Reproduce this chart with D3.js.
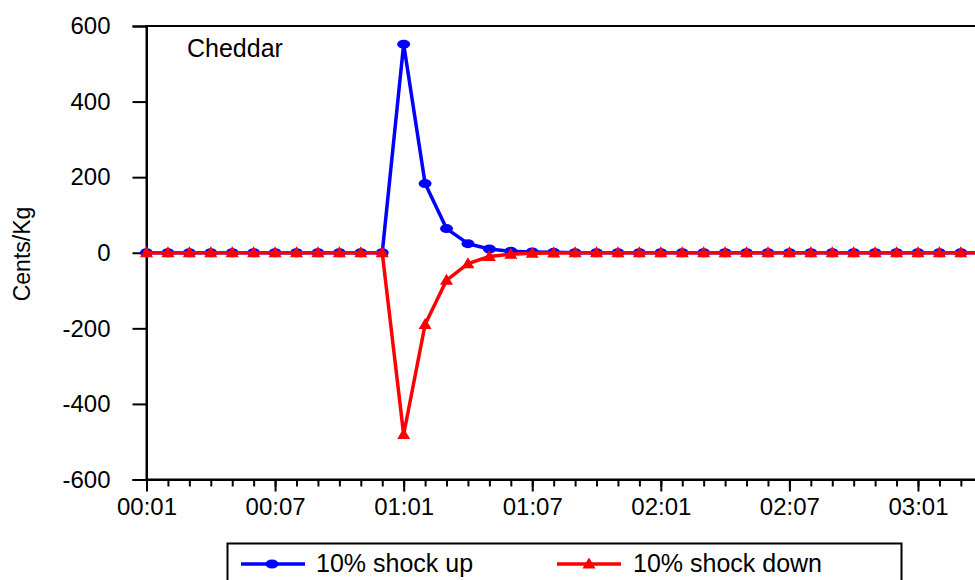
<!DOCTYPE html>
<html>
<head>
<meta charset="utf-8">
<script src="https://cdn.jsdelivr.net/npm/d3@7"></script>
<style>
  html, body { margin: 0; padding: 0; background: #fff; overflow: hidden; }
  svg { display: block; font-family: "Liberation Sans", Arial, sans-serif; }
</style>
</head>
<body>
<svg id="chart" width="975" height="580"></svg>
<script>
// Monthly periods (yy:mm), 2000:01 onwards
const periods = [
  "00:01","00:02","00:03","00:04","00:05","00:06","00:07","00:08","00:09","00:10","00:11","00:12",
  "01:01","01:02","01:03","01:04","01:05","01:06","01:07","01:08","01:09","01:10","01:11","01:12",
  "02:01","02:02","02:03","02:04","02:05","02:06","02:07","02:08","02:09","02:10","02:11","02:12",
  "03:01","03:02","03:03","03:04","03:05"
];

// Response of cheddar price (cents/kg)
const shockUp = [
  0,0,0,0,0,0,0,0,0,0,0,0,
  552,183,64,24,10,4,2,1,0,0,0,0,
  0,0,0,0,0,0,0,0,0,0,0,0,
  0,0,0,0,0
];
const shockDown = [
  0,0,0,0,0,0,0,0,0,0,0,0,
  -481,-190,-73,-29,-10,-4,-1.5,-0.5,0,0,0,0,
  0,0,0,0,0,0,0,0,0,0,0,0,
  0,0,0,0,0
];

const yTicks = [-600, -400, -200, 0, 200, 400, 600];
const majorTickLabels = ["00:01","00:07","01:01","01:07","02:01","02:07","03:01"];
const seriesNames = ["10% shock up", "10% shock down"];
const seriesColors = ["#0000ff", "#ff0000"];

const svg = d3.select("#chart");
const plotLeft = 146.5, plotTop = 26, plotBottom = 479.5, step = 21.43;
const FONT = "'Liberation Sans', Arial, sans-serif";

const x = d3.scaleLinear()
  .domain([0, periods.length - 1])
  .range([plotLeft, plotLeft + (periods.length - 1) * step]);
const y = d3.scaleLinear().domain([-600, 600]).range([plotBottom, plotTop]);

// frame
svg.append("rect")
  .attr("x", plotLeft).attr("y", plotTop)
  .attr("width", x.range()[1] - plotLeft).attr("height", plotBottom - plotTop)
  .attr("fill", "none").attr("stroke", "#000").attr("stroke-width", 2);

// y axis (plain hyphen for negatives)
const yAxis = svg.append("g")
  .attr("transform", `translate(${plotLeft},0)`)
  .call(d3.axisLeft(y).tickValues(yTicks).tickSize(14).tickPadding(22).tickFormat(d => String(d)));
yAxis.select(".domain").attr("stroke-width", 2);
yAxis.selectAll(".tick line").attr("stroke-width", 2);
yAxis.selectAll("text").attr("font-size", 24).attr("fill", "#000").attr("font-family", FONT);

// x axis: minor ticks each month, major ticks with labels
const idx = d3.range(periods.length);
const xMinor = svg.append("g")
  .attr("transform", `translate(0,${plotBottom})`)
  .call(d3.axisBottom(x).tickValues(idx).tickSize(7).tickFormat(""));
xMinor.select(".domain").attr("stroke-width", 2);
xMinor.selectAll(".tick line").attr("stroke-width", 2);

const majorIdx = majorTickLabels.map(l => periods.indexOf(l));
const xMajor = svg.append("g")
  .attr("transform", `translate(0,${plotBottom})`)
  .call(d3.axisBottom(x).tickValues(majorIdx).tickSize(12).tickPadding(6)
    .tickFormat(i => periods[i]));
xMajor.select(".domain").remove();
xMajor.selectAll(".tick line").attr("stroke-width", 2);
xMajor.selectAll("text").attr("font-size", 24).attr("fill", "#000").attr("font-family", FONT);

// y axis title
svg.append("text")
  .attr("transform", `translate(30,254) rotate(-90)`)
  .attr("text-anchor", "middle")
  .attr("font-size", 23)
  .attr("font-family", FONT)
  .text("Cents/Kg");

// panel title
svg.append("text")
  .attr("x", 187).attr("y", 57)
  .attr("font-size", 25)
  .attr("font-family", FONT)
  .text("Cheddar");

// series
const line = d3.line().x((d, i) => x(i)).y(d => y(d));
const triangle = (cx, cy) => `M${cx},${cy - 6.5}L${cx + 6.5},${cy + 4.5}L${cx - 6.5},${cy + 4.5}Z`;

const gUp = svg.append("g");
gUp.append("path").datum(shockUp).attr("d", line)
  .attr("fill", "none").attr("stroke", seriesColors[0]).attr("stroke-width", 3.5)
  .attr("stroke-linejoin", "round");
gUp.selectAll("ellipse").data(shockUp).join("ellipse")
  .attr("cx", (d, i) => x(i)).attr("cy", d => y(d))
  .attr("rx", 6.5).attr("ry", 4.5).attr("fill", seriesColors[0]);

const gDown = svg.append("g");
gDown.append("path").datum(shockDown).attr("d", line)
  .attr("fill", "none").attr("stroke", seriesColors[1]).attr("stroke-width", 3.5)
  .attr("stroke-linejoin", "round");
gDown.selectAll("path.marker").data(shockDown).join("path")
  .attr("class", "marker")
  .attr("d", (d, i) => triangle(x(i), y(d)))
  .attr("fill", seriesColors[1]);

// legend
const legend = svg.append("g");
legend.append("rect")
  .attr("x", 227.5).attr("y", 543.5).attr("width", 674).attr("height", 60)
  .attr("fill", "#fff").attr("stroke", "#000").attr("stroke-width", 2);

const legendItems = [
  { x0: 241, x1: 305, mx: 272, tx: 316 },
  { x0: 557, x1: 621, mx: 589, tx: 633 }
];
legendItems.forEach((it, k) => {
  const ly = 564;
  legend.append("line")
    .attr("x1", it.x0).attr("x2", it.x1).attr("y1", ly).attr("y2", ly)
    .attr("stroke", seriesColors[k]).attr("stroke-width", 3.5);
  if (k === 0) {
    legend.append("ellipse").attr("cx", it.mx).attr("cy", ly)
      .attr("rx", 6.5).attr("ry", 4.5).attr("fill", seriesColors[k]);
  } else {
    legend.append("path").attr("d", triangle(it.mx, ly)).attr("fill", seriesColors[k]);
  }
  legend.append("text")
    .attr("x", it.tx).attr("y", 572)
    .attr("font-size", 25)
    .attr("font-family", FONT)
    .text(seriesNames[k]);
});
</script>
</body>
</html>
